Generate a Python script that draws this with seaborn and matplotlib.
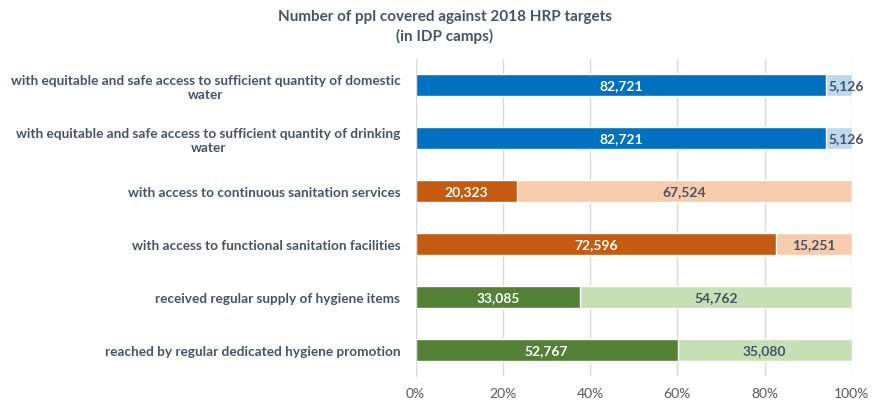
import seaborn as sns
import matplotlib.pyplot as plt
import pandas as pd

categories = [
    "with equitable and safe access to sufficient quantity of domestic\nwater",
    "with equitable and safe access to sufficient quantity of drinking\nwater",
    "with access to continuous sanitation services",
    "with access to functional sanitation facilities",
    "received regular supply of hygiene items",
    "reached by regular dedicated hygiene promotion",
]
covered = [82721, 82721, 20323, 72596, 33085, 52767]
gap = [5126, 5126, 67524, 15251, 54762, 35080]
dark_colors = ["#0070C0", "#0070C0", "#C55A11", "#C55A11", "#538135", "#538135"]
light_colors = ["#BDD7EE", "#BDD7EE", "#F8CBAD", "#F8CBAD", "#C5E0B4", "#C5E0B4"]
xticks = [0, 20, 40, 60, 80, 100]

sns.set_style("white")
plt.rcParams["font.family"] = ["Lato", "DejaVu Sans"]
text_col = "#44546A"

df = pd.DataFrame({"cat": categories, "covered": covered, "gap": gap})
df["total"] = df["covered"] + df["gap"]
df["cov_pct"] = df["covered"] / df["total"] * 100
df["full_pct"] = 100.0

fig = plt.figure(figsize=(8.9, 4.1), dpi=100)
ax = fig.add_axes([0.467, 0.080, 0.490, 0.774])

sns.barplot(data=df, x="full_pct", y="cat", hue="cat", palette=light_colors,
            orient="h", width=0.41, dodge=False, legend=False, ax=ax, saturation=1)
sns.barplot(data=df, x="cov_pct", y="cat", hue="cat", palette=dark_colors,
            orient="h", width=0.41, dodge=False, legend=False, ax=ax, saturation=1)

for i, row in df.iterrows():
    ax.text(row["cov_pct"] / 2, i, f"{row['covered']:,}", ha="center", va="center",
            color="white", fontsize=10, fontweight="bold")
    if row["gap"] / row["total"] < 0.1:
        # small segment: label starts just right of the dark part
        ax.text(row["cov_pct"] + 0.6, i, f"{row['gap']:,}", ha="left", va="center",
                color=text_col, fontsize=10, fontweight="bold", clip_on=False)
    else:
        ax.text((row["cov_pct"] + 100) / 2, i, f"{row['gap']:,}", ha="center", va="center",
                color=text_col, fontsize=10, fontweight="bold")

ax.set_xlim(0, 100)
ax.set_ylim(5.5, -0.5)
ax.set_xticks(xticks)
ax.set_xticklabels([f"{t}%" for t in xticks], color="#595959", fontsize=10)
ax.xaxis.grid(True, color="#D9D9D9", linewidth=1)
ax.set_axisbelow(True)
for s in ["top", "right", "bottom"]:
    ax.spines[s].set_visible(False)
ax.spines["left"].set_color("#D9D9D9")
ax.tick_params(axis="y", length=0, pad=11)
ax.tick_params(axis="x", length=0, pad=8)
for lab in ax.get_yticklabels():
    lab.set_fontweight("bold")
    lab.set_fontsize(9.8)
    lab.set_color(text_col)
    lab.set_multialignment("center")
ax.set_xlabel("")
ax.set_ylabel("")

fig.text(0.5, 0.975, "Number of ppl covered against 2018 HRP targets\n(in IDP camps)",
         ha="center", va="top", fontsize=11, fontweight="bold", color=text_col,
         linespacing=1.4)

fig.savefig("out.png", dpi=100)
